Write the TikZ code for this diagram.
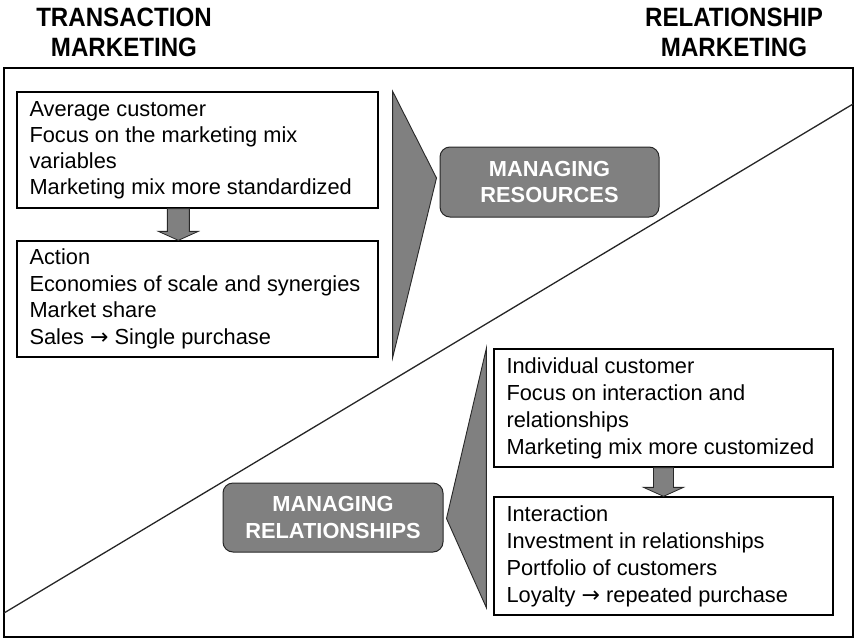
\documentclass[tikz,border=0pt]{standalone}
\usepackage{fontspec}
\setmainfont{Liberation Sans}
\newfontfamily\headfont[FakeStretch=0.91]{Liberation Sans}
\newfontfamily\arrowfnt{DejaVu Sans}
\newcommand{\rarr}{{\arrowfnt\fontsize{22}{22}\selectfont\symbol{"2192}}}
\usetikzlibrary{calc}
\definecolor{boxgray}{RGB}{128,128,128}
\definecolor{edgegray}{RGB}{40,40,40}
\begin{document}
\begin{tikzpicture}[x=1pt,y=-1pt,
  header/.style={inner sep=0pt, align=center, anchor=north,
    font=\headfont\bfseries\fontsize{26.5}{29.5}\selectfont},
  txtbox/.style={draw=black, line width=1.3pt, fill=white, inner sep=0pt, anchor=center},
  boxtext/.style={inner sep=0pt, align=left, anchor=west},
  mgmt/.style={draw=edgegray, line width=1pt, fill=boxgray, rounded corners=10pt,
    text=white, align=center, inner sep=0pt,
    font=\bfseries\fontsize{21.8}{26.5}\selectfont},
  chevron/.style={draw=edgegray, line width=0.9pt, fill=boxgray, line join=miter},
  blockarrow/.style={draw=edgegray, line width=0.8pt, fill=boxgray},
  frameline/.style={draw=black, line width=1.5pt},
  diag/.style={draw=black!85, line width=1.3pt}
]
\useasboundingbox (0,0) rectangle (856,640);

% headers
\node[header] (hT) at (124,8) {TRANSACTION\\MARKETING};
\node[header] (hR) at (734,8) {RELATIONSHIP\\MARKETING};

% frame and diagonal
\draw[frameline] (4,68) rectangle (853,637);
\coordinate (dl) at (4,613);
\coordinate (dr) at (853,104);
\draw[diag] (dl) -- (dr);

% boxes (upper left)
\node[txtbox, minimum width=361pt, minimum height=116pt] (A) at (197.5,150) {};
\node[boxtext, font=\fontsize{21.8}{26}\selectfont] (tA) at ($(A.west)+(13,0)$)
  {Average customer\\Focus on the marketing mix\\variables\\Marketing mix more standardized};
\node[txtbox, minimum width=361pt, minimum height=116pt] (B) at (197.5,299) {};
\node[boxtext, font=\fontsize{21.8}{26.5}\selectfont] (tB) at ($(B.west)+(13,0)$)
  {Action\\Economies of scale and synergies\\Market share\\Sales \rarr{} Single purchase};

% boxes (lower right)
\node[txtbox, minimum width=339pt, minimum height=118pt] (C) at (663.5,408) {};
\node[boxtext, font=\fontsize{21.8}{27}\selectfont] (tC) at ($(C.west)+(13,0)$)
  {Individual customer\\Focus on interaction and\\relationships\\Marketing mix more customized};
\node[txtbox, minimum width=339pt, minimum height=118pt] (D) at (663.5,556) {};
\node[boxtext, font=\fontsize{21.8}{27}\selectfont] (tD) at ($(D.west)+(13,0)$)
  {Interaction\\Investment in relationships\\Portfolio of customers\\Loyalty \rarr{} repeated purchase};

% managing boxes
\node[mgmt, minimum width=219pt, minimum height=70pt] (MR) at (549.5,182) {MANAGING\\RESOURCES};
\node[mgmt, minimum width=220pt, minimum height=69pt] (MRel) at (333,517.5) {MANAGING\\RELATIONSHIPS};

% chevrons
\draw[chevron] ($(A.north east)+(14,0)$) -- ($(MR.west)+(-3,-4)$) -- ($(B.south east)+(14,0)$) -- cycle;
\draw[chevron] ($(C.north west)+(-7,0)$) -- ($(MRel.east)+(3,1)$) -- ($(D.south west)+(-7,-8)$) -- cycle;

% block arrows
\coordinate (a1) at ($(A.south west)+(162,0)$);
\coordinate (a1t) at (a1 |- B.north);
\draw[blockarrow] ($(a1)+(-11,0)$) -- ($(a1t)+(-11,-9)$) -- ($(a1t)+(-20,-9)$) -- (a1t)
  -- ($(a1t)+(20,-9)$) -- ($(a1t)+(11,-9)$) -- ($(a1)+(11,0)$) -- cycle;
\coordinate (a2) at (C.south);
\coordinate (a2t) at (D.north);
\draw[blockarrow] ($(a2)+(-10,0)$) -- ($(a2t)+(-10,-9)$) -- ($(a2t)+(-20,-9)$) -- (a2t)
  -- ($(a2t)+(20,-9)$) -- ($(a2t)+(10,-9)$) -- ($(a2)+(10,0)$) -- cycle;
\end{tikzpicture}
\end{document}
